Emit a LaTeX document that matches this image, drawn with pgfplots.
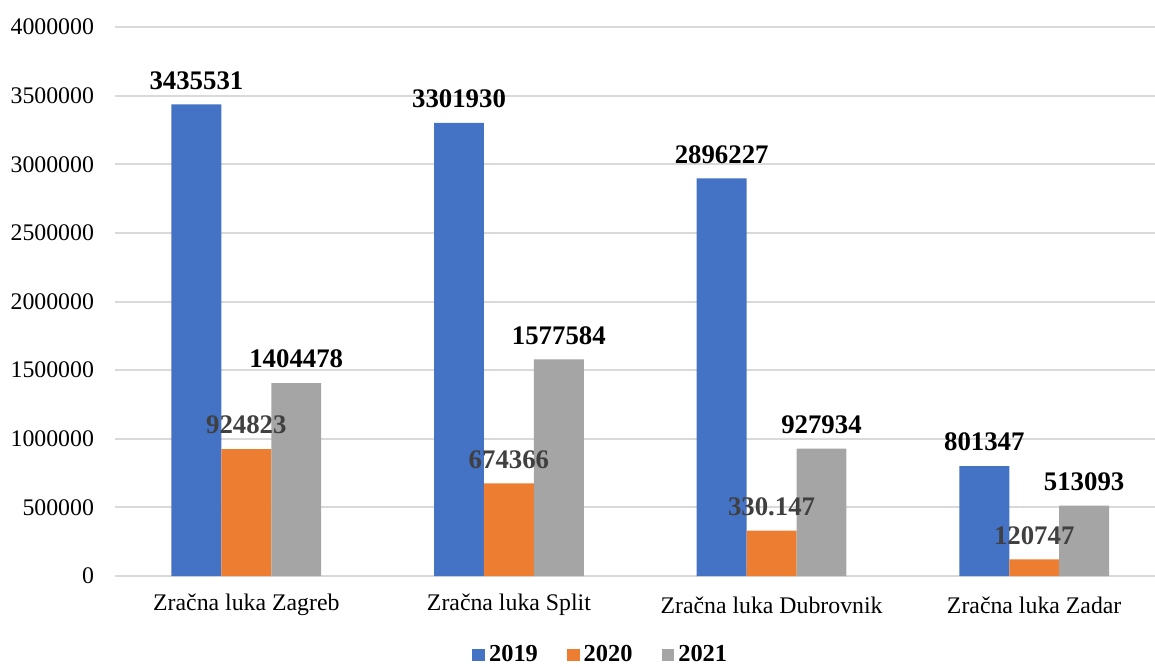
\documentclass[border=0pt]{standalone}
\usepackage{fontspec}
\setmainfont{Liberation Serif}
\usepackage{pgfplots}
\pgfplotsset{compat=1.18}

\definecolor{c19}{HTML}{4472C4}
\definecolor{c20}{HTML}{ED7D31}
\definecolor{c21}{HTML}{A5A5A5}
\definecolor{lbl20}{HTML}{404040}

\pgfplotsset{
  sqlegend/.style={legend image code/.code={\fill[##1] (0pt,-3.2pt) rectangle (6.4pt,3.2pt);}},
  vallabel/.style={point meta=explicit symbolic, nodes near coords,
    nodes near coords style={text=#1, font=\bfseries\fontsize{13.4}{15}\selectfont, anchor=south, yshift=4pt}}
}

\begin{document}
\begin{tikzpicture}
\begin{axis}[
  scale only axis,
  width=520pt, height=274.5pt,
  ybar, bar width=0.19,
  xmin=-0.5, xmax=3.46,
  ymin=0, ymax=4000000,
  xtick={0,1,2,3},
  xticklabels={Zračna luka Zagreb, Zračna luka Split, Zračna luka Dubrovnik, Zračna luka Zadar},
  xticklabel style={font=\fontsize{11.9}{14}\selectfont, anchor=center, yshift=-14.5pt},
  ytick={0,500000,1000000,1500000,2000000,2500000,3000000,3500000,4000000},
  scaled y ticks=false,
  yticklabel style={/pgf/number format/fixed, /pgf/number format/1000 sep={},
    /pgf/number format/assume math mode=true,
    font=\fontsize{11.9}{14}\selectfont, anchor=east, xshift=-7pt},
  axis line style={draw=none},
  major tick length=0pt,
  ymajorgrids, grid style={color=gray!30, line width=1pt},
  legend style={draw=none, legend columns=3, at={(0.468,-0.144)}, anchor=center,
    font=\bfseries\fontsize{12.2}{14}\selectfont,
    /tikz/every even column/.append style={column sep=12.5pt}},
  clip=false
]
% bars
\addplot[bar shift=-0.19, fill=c19, draw=none, sqlegend]
  coordinates {(0,3435531)(1,3301930)(2,2896227)(3,801347)};
\addplot[bar shift=0, fill=c20, draw=none, sqlegend]
  coordinates {(0,924823)(1,674366)(2,330147)(3,120747)};
\addplot[bar shift=0.19, fill=c21, draw=none, sqlegend]
  coordinates {(0,1404478)(1,1577584)(2,927934)(3,513093)};
\legend{2019,2020,2021}
% value labels, drawn after all bars so they sit on top
\addplot[bar shift=-0.19, draw=none, fill=none, forget plot, vallabel=black]
  coordinates {(0,3435531)[3435531] (1,3301930)[3301930] (2,2896227)[2896227] (3,801347)[801347]};
\addplot[bar shift=0, draw=none, fill=none, forget plot, vallabel=lbl20]
  coordinates {(0,924823)[924823] (1,674366)[674366] (2,330147)[330.147] (3,120747)[120747]};
\addplot[bar shift=0.19, draw=none, fill=none, forget plot, vallabel=black]
  coordinates {(0,1404478)[1404478] (1,1577584)[1577584] (2,927934)[927934] (3,513093)[513093]};
\coordinate (bl) at (rel axis cs:0,0);
\coordinate (tr) at (rel axis cs:1,1);
\end{axis}
\pgfresetboundingbox
\path[use as bounding box] ([xshift=-57.5pt,yshift=-45pt]bl) rectangle ([yshift=13.5pt]tr);
\end{tikzpicture}
\end{document}
